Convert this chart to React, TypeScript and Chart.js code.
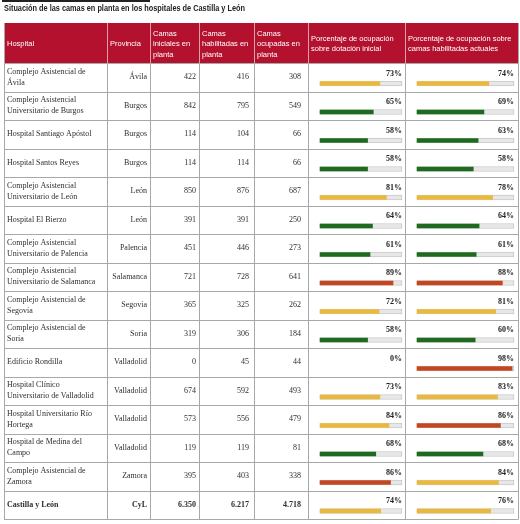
import React, { useEffect, useRef } from "react";
import { Chart, registerables } from "chart.js";

Chart.register(...registerables);

const TITLE = "Situación de las camas en planta en los hospitales de Castilla y León";

const HEADERS: string[][] = [
  ["Hospital"],
  ["Provincia"],
  ["Camas", "iniciales en", "planta"],
  ["Camas", "habilitadas en", "planta"],
  ["Camas", "ocupadas en", "planta"],
  ["Porcentaje de ocupación", "sobre dotación inicial"],
  ["Porcentaje de ocupación sobre", "camas habilitadas actuales"],
];

const HOSPITALS = [
  "Complejo Asistencial de\nÁvila",
  "Complejo Asistencial\nUniversitario de Burgos",
  "Hospital Santiago Apóstol",
  "Hospital Santos Reyes",
  "Complejo Asistencial\nUniversitario de León",
  "Hospital El Bierzo",
  "Complejo Asistencial\nUniversitario de Palencia",
  "Complejo Asistencial\nUniversitario de Salamanca",
  "Complejo Asistencial de\nSegovia",
  "Complejo Asistencial de\nSoria",
  "Edificio Rondilla",
  "Hospital Clínico\nUniversitario de Valladolid",
  "Hospital Universitario Río\nHortega",
  "Hospital de Medina del\nCampo",
  "Complejo Asistencial de\nZamora",
  "Castilla y León",
];

const PROVINCES = [
  "Ávila", "Burgos", "Burgos", "Burgos", "León", "León", "Palencia", "Salamanca",
  "Segovia", "Soria", "Valladolid", "Valladolid", "Valladolid", "Valladolid", "Zamora", "CyL",
];

const BEDS_INITIAL = [422, 842, 114, 114, 850, 391, 451, 721, 365, 319, 0, 674, 573, 119, 395, 6350];
const BEDS_ENABLED = [416, 795, 104, 114, 876, 391, 446, 728, 325, 306, 45, 592, 556, 119, 403, 6217];
const BEDS_OCCUPIED = [308, 549, 66, 66, 687, 250, 273, 641, 262, 184, 44, 493, 479, 81, 338, 4718];
const PCT_INITIAL = [73, 65, 58, 58, 81, 64, 61, 89, 72, 58, 0, 73, 84, 68, 86, 74];
const PCT_ENABLED = [74, 69, 63, 58, 78, 64, 61, 88, 81, 60, 98, 83, 86, 68, 84, 76];

// ---- layout (pixels) ----
const W = 520;
const H = 524;
const TABLE_LEFT = 4;
const TABLE_RIGHT = 518;
const HEADER_TOP = 23;
const BODY_TOP = 63;
const BODY_BOTTOM = 519;
const COL_EDGES = [4, 107, 150, 199, 254, 308, 405, 518];
const TRACK1 = [320, 402];
const TRACK2 = [417, 514];
const BAR_POS = 0.72;
const LABEL_POS = 0.38;
const ROWS = HOSPITALS.length;

const SERIF = '"Liberation Serif", "DejaVu Serif", serif';
const SANS = '"Liberation Sans", Arial, sans-serif';

function axisRange(track: number[]) {
  const ppu = (track[1] - track[0]) / 100;
  return { min: -(track[0] - TABLE_LEFT) / ppu, max: (TABLE_RIGHT - track[0]) / ppu };
}

function colorFor(v: number) {
  if (v >= 85) return "#c2461f";
  if (v >= 70) return "#ebb83e";
  return "#1e6a1e";
}

function fmt(n: number) {
  return String(n).replace(/\B(?=(\d{3})+(?!\d))/g, ".");
}

const tablePlugin = {
  id: "tablePlugin",
  beforeDatasetsDraw(chart: any) {
    const ctx = chart.ctx as CanvasRenderingContext2D;
    const y = chart.scales.y;
    ctx.save();
    // title
    ctx.fillStyle = "#222";
    ctx.fillRect(2, 0, 148, 2);
    ctx.font = `bold 8.5px ${SANS}`;
    ctx.textBaseline = "middle";
    ctx.textAlign = "left";
    ctx.fillText(TITLE, 4, 9, 241);

    // header
    ctx.fillStyle = "#b3112e";
    ctx.fillRect(TABLE_LEFT, HEADER_TOP, TABLE_RIGHT - TABLE_LEFT, BODY_TOP - HEADER_TOP);
    ctx.strokeStyle = "rgba(255,255,255,0.6)";
    ctx.lineWidth = 1;
    for (let c = 1; c < COL_EDGES.length - 1; c++) {
      const x = Math.round(COL_EDGES[c]) + 0.5;
      ctx.beginPath();
      ctx.moveTo(x, HEADER_TOP);
      ctx.lineTo(x, BODY_TOP);
      ctx.stroke();
    }
    ctx.fillStyle = "#ffffff";
    ctx.font = `7.5px ${SANS}`;
    const hc = (HEADER_TOP + BODY_TOP) / 2 + 1;
    HEADERS.forEach((lines, c) => {
      const lh = 10.5;
      const start = hc - ((lines.length - 1) * lh) / 2;
      lines.forEach((ln, k) => {
        ctx.fillText(ln, COL_EDGES[c] + 3, start + k * lh, COL_EDGES[c + 1] - COL_EDGES[c] - 5);
      });
    });

    // grid
    ctx.strokeStyle = "#a8a8a8";
    ctx.lineWidth = 1;
    for (let i = 0; i <= ROWS; i++) {
      const py = Math.round(y.getPixelForValue(i)) + 0.5;
      ctx.beginPath();
      ctx.moveTo(TABLE_LEFT, py);
      ctx.lineTo(TABLE_RIGHT, py);
      ctx.stroke();
    }
    const top = Math.round(y.getPixelForValue(0));
    const bottom = Math.round(y.getPixelForValue(ROWS));
    for (let c = 0; c < COL_EDGES.length; c++) {
      const x = Math.round(COL_EDGES[c]) + 0.5;
      ctx.beginPath();
      ctx.moveTo(x, c === 0 || c === COL_EDGES.length - 1 ? HEADER_TOP : top);
      ctx.lineTo(x, bottom + 0.5);
      ctx.stroke();
    }
    ctx.restore();
  },
  afterDatasetsDraw(chart: any) {
    const ctx = chart.ctx as CanvasRenderingContext2D;
    const y = chart.scales.y;
    const x1 = chart.scales.x1;
    const x2 = chart.scales.x2;
    ctx.save();
    ctx.textBaseline = "middle";
    for (let i = 0; i < ROWS; i++) {
      const isTotal = i === ROWS - 1;
      const cy = y.getPixelForValue(i + 0.5);
      ctx.fillStyle = "#2e2e2e";
      ctx.font = `${isTotal ? "bold " : ""}8px ${SERIF}`;
      // hospital
      ctx.textAlign = "left";
      const lines = HOSPITALS[i].split("\n");
      const lh = 11;
      const start = cy - ((lines.length - 1) * lh) / 2;
      lines.forEach((ln, k) => ctx.fillText(ln, COL_EDGES[0] + 3, start + k * lh));
      // province & numbers
      ctx.textAlign = "right";
      ctx.fillText(PROVINCES[i], COL_EDGES[2] - 3, cy);
      ctx.fillText(fmt(BEDS_INITIAL[i]), COL_EDGES[3] - 3, cy);
      ctx.fillText(fmt(BEDS_ENABLED[i]), COL_EDGES[4] - 5, cy);
      ctx.fillText(fmt(BEDS_OCCUPIED[i]), COL_EDGES[5] - 7, cy);
      // percent labels
      ctx.font = `bold 8px ${SERIF}`;
      ctx.fillStyle = "#222";
      const ly = y.getPixelForValue(i + LABEL_POS);
      ctx.fillText(PCT_INITIAL[i] + "%", x1.getPixelForValue(100), ly);
      ctx.fillText(PCT_ENABLED[i] + "%", x2.getPixelForValue(100), ly);
    }
    ctx.restore();
  },
};

export default function App() {
  const ref = useRef<HTMLCanvasElement | null>(null);

  useEffect(() => {
    document.body.style.margin = "0";
    const canvas = ref.current;
    if (!canvas) return;
    const r1 = axisRange(TRACK1);
    const r2 = axisRange(TRACK2);
    const pts = (arr: number[], fn: (v: number) => number | null) =>
      arr.map((v, i) => ({ x: fn(v), y: i + BAR_POS }));

    const chart = new Chart(canvas, {
      type: "bar",
      data: {
        datasets: [
          {
            label: "Ocupación sobre dotación inicial",
            data: pts(PCT_INITIAL, (v) => (v > 0 ? v : null)) as any,
            xAxisID: "x1",
            yAxisID: "y",
            backgroundColor: PCT_INITIAL.map(colorFor),
            borderWidth: 0,
            barThickness: 4,
            grouped: false,
          } as any,
          {
            label: "Ocupación sobre camas habilitadas",
            data: pts(PCT_ENABLED, (v) => (v > 0 ? v : null)) as any,
            xAxisID: "x2",
            yAxisID: "y",
            backgroundColor: PCT_ENABLED.map(colorFor),
            borderWidth: 0,
            barThickness: 4,
            grouped: false,
          } as any,
          {
            label: "track1",
            data: pts(PCT_INITIAL, (v) => (v > 0 ? 100 : null)) as any,
            xAxisID: "x1",
            yAxisID: "y",
            backgroundColor: "#e7e7e7",
            borderColor: "#cacaca",
            borderWidth: 1,
            barThickness: 5,
            grouped: false,
          } as any,
          {
            label: "track2",
            data: pts(PCT_ENABLED, (v) => (v > 0 ? 100 : null)) as any,
            xAxisID: "x2",
            yAxisID: "y",
            backgroundColor: "#e7e7e7",
            borderColor: "#cacaca",
            borderWidth: 1,
            barThickness: 5,
            grouped: false,
          } as any,
        ],
      },
      options: {
        responsive: false,
        animation: false,
        indexAxis: "y",
        layout: {
          padding: {
            left: TABLE_LEFT,
            right: W - TABLE_RIGHT,
            top: BODY_TOP,
            bottom: H - BODY_BOTTOM,
          },
        },
        plugins: {
          legend: { display: false },
          title: { display: false },
          tooltip: { enabled: false },
        },
        scales: {
          y: { type: "linear", min: 0, max: ROWS, reverse: true, offset: false, display: false },
          x1: { type: "linear", axis: "x", position: "bottom", min: r1.min, max: r1.max, offset: false, display: false },
          x2: { type: "linear", axis: "x", position: "bottom", min: r2.min, max: r2.max, offset: false, display: false },
        } as any,
      },
      plugins: [tablePlugin],
    });
    return () => chart.destroy();
  }, []);

  return (
    <canvas ref={ref} width={W} height={H} style={{ display: "block", width: W, height: H }} />
  );
}
